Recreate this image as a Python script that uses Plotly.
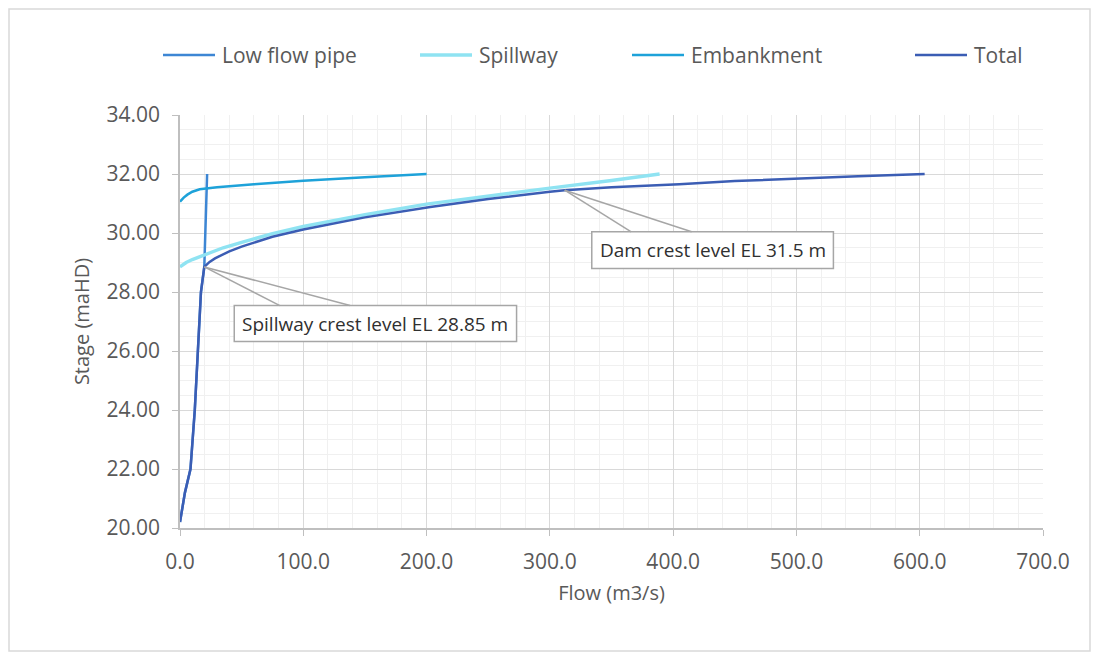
import numpy as np
import plotly.graph_objects as go

# ---------------- data ----------------
pipe_flow = [0, 4, 8.5, 12, 14.5, 17, 19.7, 21, 22]
pipe_stage = [20.2, 21.2, 22.0, 24.0, 26.0, 28.0, 28.85, 30.5, 32.0]

spill_flow = [0, 5, 10, 20, 35, 50, 75, 100, 150, 200, 250, 300, 350, 389]
spill_stage = [28.85, 29.0, 29.1, 29.27, 29.5, 29.68, 29.98, 30.22, 30.62, 30.98,
               31.26, 31.52, 31.78, 32.0]

emb_flow = [0, 3, 6, 10, 16, 30, 60, 100, 150, 200]
emb_stage = [31.06, 31.2, 31.3, 31.4, 31.48, 31.55, 31.65, 31.77, 31.89, 32.0]

total_flow = [0, 4, 8.5, 12, 14.5, 17, 19.7, 24, 28.4, 40, 50, 75, 100, 150, 203,
              250, 300, 312, 350, 405, 450, 500, 550, 604]
total_stage = [20.2, 21.2, 22.0, 24.0, 26.0, 28.0, 28.85, 29.02, 29.14, 29.38, 29.54,
               29.87, 30.12, 30.53, 30.88, 31.15, 31.4, 31.45, 31.55, 31.65, 31.76,
               31.85, 31.92, 32.0]

x_ticks = [0, 100, 200, 300, 400, 500, 600, 700]
y_ticks = [20, 22, 24, 26, 28, 30, 32, 34]

spillway_crest = 28.85
dam_crest = 31.5
spill_label = "Spillway crest level EL 28.85 m"
dam_label = "Dam crest level EL 31.5 m"

# ---------------- figure ----------------
FONT = "'Open Sans', Lato, sans-serif"
TXT = "#595959"
OFF = 8  # the page body has an 8px margin
FIG_W, FIG_H = 1099 - OFF, 659 - OFF

fig = go.Figure()

series = [
    ("Low flow pipe", pipe_flow, pipe_stage, "#3d86d4", 2.5),
    ("Spillway", spill_flow, spill_stage, "#8fe3f2", 3.4),
    ("Embankment", emb_flow, emb_stage, "#1ea2d9", 2.5),
    ("Total", total_flow, total_stage, "#3b5db4", 2.5),
]
for name, xs, ys, col, w in series:
    fig.add_trace(go.Scatter(x=xs, y=ys, mode="lines", name=name,
                             line=dict(color=col, width=w), showlegend=False))

# plot area geometry (screen px) used to place paper-referenced decorations
L, R, T, B = 180, 1043, 115, 528
W, H = R - L, B - T
def px2paper_x(px):
    return (px - L) / W
def px2paper_y(py):
    return (B - py) / H

shapes = []
annotations = []

# custom legend across the top (Excel-style)
legend_line_starts = [163, 420, 632, 915]
legend_y = px2paper_y(55)
for (name, _, _, col, w), x0 in zip(series, legend_line_starts):
    shapes.append(dict(type="line", xref="paper", yref="paper",
                       x0=px2paper_x(x0), x1=px2paper_x(x0 + 52), y0=legend_y, y1=legend_y,
                       line=dict(color=col, width=w)))
    annotations.append(dict(x=px2paper_x(x0 + 57), y=legend_y, xref="paper", yref="paper",
                            xanchor="left", yanchor="middle", text=name, showarrow=False,
                            font=dict(family=FONT, size=21, color=TXT)))

# callout points on the Total curve
sx = float(np.interp(spillway_crest, total_stage, total_flow))
dy = dam_crest - 0.05
dx = float(np.interp(dy, total_stage, total_flow))

callout_grey = "#a6a6a6"
sbox = dict(x0=44, x1=273, y0=26.32, y1=27.54)
shapes.append(dict(type="rect", xref="x", yref="y", **sbox,
                   line=dict(color=callout_grey, width=1.5), fillcolor="white", layer="above"))
for ex in (81, 138):
    shapes.append(dict(type="line", xref="x", yref="y", x0=sx, y0=spillway_crest,
                       x1=ex, y1=sbox["y1"], line=dict(color=callout_grey, width=1.5)))
dbox = dict(x0=334, x1=530, y0=28.80, y1=30.04)
shapes.append(dict(type="rect", xref="x", yref="y", **dbox,
                   line=dict(color=callout_grey, width=1.5), fillcolor="white", layer="above"))
for ex in (366, 415):
    shapes.append(dict(type="line", xref="x", yref="y", x0=dx, y0=dy,
                       x1=ex, y1=dbox["y1"], line=dict(color=callout_grey, width=1.5)))

annotations.append(dict(x=(sbox["x0"] + sbox["x1"]) / 2, y=(sbox["y0"] + sbox["y1"]) / 2,
                        xref="x", yref="y", text=spill_label, showarrow=False,
                        font=dict(family=FONT, size=19, color="#303030")))
annotations.append(dict(x=(dbox["x0"] + dbox["x1"]) / 2, y=(dbox["y0"] + dbox["y1"]) / 2,
                        xref="x", yref="y", text=dam_label, showarrow=False,
                        font=dict(family=FONT, size=19, color="#303030")))

# outer chart border (kept inside the figure so all four sides are visible)
shapes.append(dict(type="rect", xref="paper", yref="paper",
                   x0=px2paper_x(9), x1=px2paper_x(1090), y0=px2paper_y(651), y1=px2paper_y(9),
                   line=dict(color="#d9d9d9", width=1.5)))

fig.update_layout(
    width=FIG_W, height=FIG_H,
    margin=dict(l=L - OFF, r=FIG_W - (R - OFF), t=T - OFF, b=FIG_H - (B - OFF),
                autoexpand=False),
    paper_bgcolor="white", plot_bgcolor="white",
    font=dict(family=FONT, size=21, color=TXT),
    shapes=shapes, annotations=annotations,
    showlegend=False,
)

fig.update_xaxes(
    range=[0, 700], tickvals=x_ticks, ticktext=[f"{v:.1f}" for v in x_ticks],
    tickfont=dict(family=FONT, size=21, color=TXT),
    showgrid=True, gridcolor="#d9d9d9", gridwidth=1.2,
    minor=dict(dtick=20, showgrid=True, gridcolor="#f0f0f0", gridwidth=1),
    showline=True, linecolor="#bfbfbf", linewidth=1.5,
    ticks="outside", ticklen=6, tickcolor="#bfbfbf", ticklabelstandoff=8,
    zeroline=False,
    title=dict(text="Flow (m3/s)", font=dict(family=FONT, size=20, color=TXT), standoff=12),
)
fig.update_yaxes(
    range=[20, 34], tickvals=y_ticks, ticktext=[f"{v:.2f}" for v in y_ticks],
    tickfont=dict(family=FONT, size=21, color=TXT),
    showgrid=True, gridcolor="#d9d9d9", gridwidth=1.2,
    minor=dict(dtick=0.5, showgrid=True, gridcolor="#f0f0f0", gridwidth=1),
    showline=True, linecolor="#bfbfbf", linewidth=1.5,
    ticks="outside", ticklen=6, tickcolor="#bfbfbf", ticklabelstandoff=8,
    zeroline=False,
    title=dict(text="Stage (maHD)", font=dict(family=FONT, size=20, color=TXT), standoff=12),
)

fig.write_html("out.html")
